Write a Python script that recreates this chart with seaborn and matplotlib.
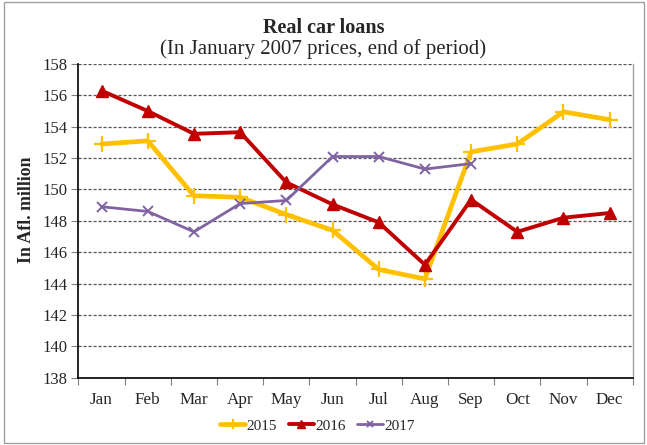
import matplotlib
matplotlib.use("Agg")
import matplotlib.pyplot as plt
import seaborn as sns
import pandas as pd
import numpy as np
from matplotlib.patches import Rectangle

months = ["Jan", "Feb", "Mar", "Apr", "May", "Jun", "Jul", "Aug", "Sep", "Oct", "Nov", "Dec"]
v2015 = [152.9, 153.1, 149.6, 149.5, 148.4, 147.4, 144.9, 144.3, 152.4, 152.9, 154.95, 154.45]
v2016 = [156.3, 155.0, 153.55, 153.65, 150.45, 149.05, 147.9, 145.2, 149.35, 147.3, 148.2, 148.5]
v2017 = [148.9, 148.6, 147.3, 149.1, 149.3, 152.1, 152.1, 151.3, 151.65]
y_ticks = list(range(138, 159, 2))

sns.set_theme(style="white")
plt.rcParams["font.family"] = ["Liberation Serif", "DejaVu Serif"]

fig = plt.figure(figsize=(6.47, 4.45), dpi=100)
ax = fig.add_axes([0.1213, 0.1512, 0.978 - 0.1213, 0.8562 - 0.1512])

x_pos = np.arange(len(months))
series = [
    ("2015", v2015, "#FFC000", "+", 3.4, 11, 1.6),
    ("2016", v2016, "#C00000", "^", 2.8, 9, 1.0),
    ("2017", v2017, "#8064A2", "x", 2.0, 7, 1.4),
]
for name, vals, col, mk, lw, ms, mew in series:
    df = pd.DataFrame({"x": x_pos[:len(vals)], "y": vals})
    sns.lineplot(data=df, x="x", y="y", ax=ax, color=col, linewidth=lw,
                 marker=mk, markersize=ms, markeredgewidth=mew,
                 markeredgecolor=col, markerfacecolor=col, label=name)

ax.set_xlim(-0.5, 11.5)
ax.set_ylim(138, 158)
ax.set_yticks(y_ticks)
ax.set_yticklabels([str(t) for t in y_ticks], fontsize=12)
ax.set_xticks(x_pos)
ax.set_xticklabels(months, fontsize=12.3)
ax.set_xticks(np.arange(-0.5, 12, 1), minor=True)
ax.tick_params(axis="x", which="major", length=0, pad=10)
ax.tick_params(axis="x", which="minor", length=5, color="#808080", width=0.8, direction="out", bottom=True)
ax.tick_params(axis="y", length=5, color="#808080", width=0.8, direction="out", left=True, pad=3)
ax.set_xlabel("")
ax.set_ylabel("In Afl. million", fontsize=12.8, fontweight="bold", va="center")
ax.yaxis.set_label_coords(-0.093, 0.535)

ax.grid(axis="y", linestyle=(0, (2.5, 1.5)), color="#555555", linewidth=0.9)
ax.set_axisbelow(True)
for s in ["left", "bottom"]:
    ax.spines[s].set_color("black")
    ax.spines[s].set_linewidth(1.2)
ax.spines["right"].set_color("#A0A0A0")
ax.spines["right"].set_linewidth(1.0)
ax.spines["top"].set_visible(False)

fig.text(0.5, 0.936, "Real car loans", ha="center", va="center", fontsize=14.5, fontweight="bold")
fig.text(0.5, 0.889, "(In January 2007 prices, end of period)", ha="center", va="center", fontsize=15)

leg = ax.legend(loc="center", bbox_to_anchor=(0.431, -0.153), ncol=3, frameon=False,
                fontsize=11, handlelength=1.65, handletextpad=0.1, columnspacing=0.75,
                borderpad=0.1, markerscale=0.7)

fig.patches.append(Rectangle((0.006, 0.004), 0.99, 0.992, transform=fig.transFigure,
                             fill=False, edgecolor="#A0A0A0", linewidth=1.0))

fig.savefig("out.png", dpi=100)
